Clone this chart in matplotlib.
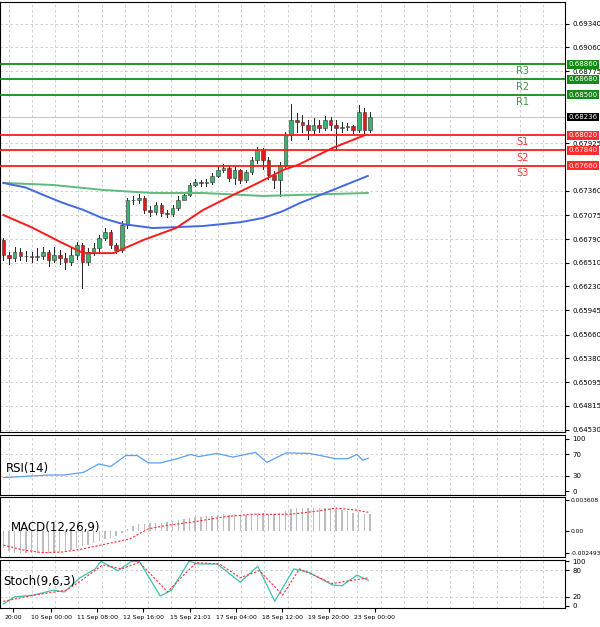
import matplotlib

matplotlib.use("Agg")
import matplotlib.pyplot as plt
from matplotlib.patches import Rectangle

# ---- price candles (H4) ----
CLOSES = [0.66601, 0.66565, 0.66636, 0.66589, 0.66589, 0.66577, 0.66589, 0.66636, 0.66541, 0.66601,
          0.66565, 0.66518, 0.66601, 0.66719, 0.66518, 0.66636, 0.66684, 0.66802, 0.66874, 0.66719,
          0.66660, 0.66957, 0.67253, 0.67253, 0.67277, 0.67134, 0.67111, 0.67194, 0.67099, 0.67087,
          0.67158, 0.67253, 0.67312, 0.67431, 0.67467, 0.67455, 0.67467, 0.67538, 0.67609, 0.67633,
          0.67514, 0.67609, 0.67490, 0.67585, 0.67727, 0.67846, 0.67727, 0.67550, 0.67490, 0.67668,
          0.68024, 0.68202, 0.68178, 0.68143, 0.68083, 0.68143, 0.68107, 0.68202, 0.68143, 0.68107,
          0.68119, 0.68131, 0.68083, 0.68297, 0.68083, 0.68236]
OPENS = [0.66780] + CLOSES[:-1]
HIGHS = [0.66800, 0.66640, 0.66700, 0.66680, 0.66650, 0.66640, 0.66680, 0.66700, 0.66660, 0.66700,
         0.66660, 0.66620, 0.66680, 0.66760, 0.66740, 0.66680, 0.66740, 0.66840, 0.66920, 0.66900,
         0.66740, 0.67000, 0.67280, 0.67300, 0.67320, 0.67300, 0.67180, 0.67230, 0.67220, 0.67140,
         0.67190, 0.67300, 0.67340, 0.67460, 0.67500, 0.67490, 0.67500, 0.67570, 0.67640, 0.67680,
         0.67660, 0.67640, 0.67620, 0.67610, 0.67760, 0.67880, 0.67870, 0.67760, 0.67600, 0.67700,
         0.68060, 0.68390, 0.68280, 0.68260, 0.68200, 0.68220, 0.68200, 0.68250, 0.68230, 0.68200,
         0.68180, 0.68160, 0.68140, 0.68380, 0.68340, 0.68300]
LOWS = [0.66540, 0.66500, 0.66530, 0.66540, 0.66530, 0.66520, 0.66540, 0.66560, 0.66470, 0.66520,
        0.66500, 0.66440, 0.66480, 0.66560, 0.66210, 0.66480, 0.66600, 0.66640, 0.66780, 0.66680,
        0.66620, 0.66640, 0.66920, 0.67200, 0.67220, 0.67100, 0.67060, 0.67090, 0.67060, 0.67050,
        0.67060, 0.67140, 0.67260, 0.67300, 0.67420, 0.67420, 0.67420, 0.67440, 0.67520, 0.67580,
        0.67480, 0.67440, 0.67460, 0.67470, 0.67560, 0.67690, 0.67620, 0.67500, 0.67400, 0.67300,
        0.67640, 0.67960, 0.68060, 0.68060, 0.67980, 0.68040, 0.68060, 0.68080, 0.68080, 0.67860,
        0.68060, 0.68080, 0.68050, 0.68060, 0.68040, 0.68060]

# moving averages (candle index, price)
MA_RED_X = [0, 5, 10, 14.2, 19.5, 24.8, 30.6, 35.4, 40.7, 45, 49.6, 52.2, 58.4, 64.2]
MA_RED_Y = [0.67075, 0.66930, 0.66760, 0.66624, 0.66624, 0.66779, 0.66921, 0.67135, 0.67312,
            0.67450, 0.67609, 0.67668, 0.67870, 0.68024]
MA_BLUE_X = [0, 4, 7.1, 10.5, 14.2, 17.5, 21.2, 26.5, 35.4, 42, 46.0, 49.5, 52.6, 58.4, 64.6]
MA_BLUE_Y = [0.67455, 0.67400, 0.67312, 0.67220, 0.67135, 0.67040, 0.66968, 0.66921, 0.66945,
             0.66990, 0.67040, 0.67120, 0.67218, 0.67372, 0.67538]
MA_GREEN_X = [0, 8.8, 17.7, 26.5, 35.4, 46.0, 64.6]
MA_GREEN_Y = [0.67455, 0.67431, 0.67372, 0.67336, 0.67336, 0.67301, 0.67336]

RESIST = [("R3", 0.68860), ("R2", 0.68680), ("R1", 0.68500)]
SUPPORT = [("S1", 0.68020), ("S2", 0.67840), ("S3", 0.67660)]
LAST_PRICE = 0.68236
PRICE_TICKS = [0.69340, 0.69060, 0.68775, 0.67925, 0.67360, 0.67075, 0.66790, 0.66510,
               0.66230, 0.65945, 0.65660, 0.65380, 0.65095, 0.64815, 0.64530]

# RSI(14)
RSI_X = [0, 8.1, 10.8, 14.2, 16.9, 19.0, 21.7, 23.7, 25.7, 27.8, 30.5, 33.2, 34.6, 37.9, 40.7,
         44.7, 46.7, 50.1, 54.2, 56.2, 58.9, 61.0, 62.7, 63.7, 64.7]
RSI_Y = [26, 31, 31, 36, 52, 47, 68, 68, 54, 54, 61, 70, 66, 72, 65, 74, 55, 73, 72, 68, 62, 62,
         70, 59, 63]

# MACD(12,26,9) histogram per candle (x1e-3) and signal nodes
MACD_HIST = [-1.9, -2.2, -2.4, -2.5, -2.5, -2.5, -2.5, -2.5, -2.4, -2.4, -2.3, -2.2, -2.1, -1.9,
             -1.7, -1.5, -1.3, -1.1, -0.9, -0.7, -0.5, -0.2, 0.3, 0.6, 0.8, 0.8, 0.9, 0.9, 1.0, 1.1,
             1.2, 1.3, 1.4, 1.5, 1.6, 1.6, 1.7, 1.8, 1.9, 2.0, 1.9, 2.0, 1.9, 1.9, 2.0, 2.1, 2.1,
             2.0, 2.0, 2.1, 2.3, 2.5, 2.6, 2.6, 2.6, 2.6, 2.6, 2.7, 2.6, 2.5, 2.4, 2.3, 2.1, 2.2,
             2.0, 2.0]
MACD_SIG_X = [0, 3.5, 6.8, 10.2, 13.5, 16.9, 22.4, 25.7, 29.1, 33.9, 39.3, 44.0, 50.8, 55.6, 58.9, 62.3, 64.7]
MACD_SIG_Y = [-1.55, -2.1, -2.4, -2.35, -2.05, -1.6, -0.85, 0.3, 0.7, 1.1, 1.67, 1.94, 1.94, 2.3,
              2.64, 2.44, 2.17]

# Stoch(9,6,3)
STO_X = [0, 2.0, 5.4, 8.8, 10.8, 13.6, 16.3, 17.3, 20.3, 22.7, 24.1, 27.8, 29.8, 32.9, 34.6, 37.9,
         42.0, 45.1, 48.1, 51.5, 54.2, 58.3, 60.0, 62.7, 64.7]
STO_MAIN = [4, 20, 24, 35, 31, 63, 83, 100, 79, 100, 100, 22, 35, 100, 94, 94, 53, 89, 10, 83, 75,
            47, 45, 69, 57]
STO_SIG_X = [0, 5.4, 11.2, 13.6, 17.6, 21.0, 24.1, 29.1, 31.8, 34.2, 38.3, 42.0, 45.4, 49.5, 52.5,
             58.3, 64.7]
STO_SIG = [10, 24, 35, 55, 92, 83, 98, 31, 67, 97, 94, 63, 79, 24, 83, 50, 63]

TIME_POS = [1.7, 8.5, 16.6, 24.8, 33.1, 41.3, 49.4, 57.7, 65.8]
TIME_LABELS = ["20:00", "10 Sep 00:00", "11 Sep 08:00", "12 Sep 16:00", "15 Sep 21:01",
               "17 Sep 04:00", "18 Sep 12:00", "19 Sep 20:00", "23 Sep 00:00"]

XMAX = 99.6
GRID_X = [0.94 + 4.12 * k for k in range(25)]
LBL = 5
GRID_KW = dict(color="#c8c8c8", linestyle=(0, (3, 3)), linewidth=0.6)

fig = plt.figure(figsize=(6.0, 6.27), dpi=100)
W = 0.942


def panel(bottom, height):
    ax = fig.add_axes([0.0, bottom, W, height])
    ax.set_xlim(-0.6, XMAX)
    ax.yaxis.tick_right()
    ax.tick_params(axis="y", labelsize=LBL, length=3, pad=2)
    ax.set_xticks([])
    for gx in GRID_X:
        ax.axvline(gx, zorder=0, **GRID_KW)
    for s in ax.spines.values():
        s.set_linewidth(0.8)
    return ax


def level_box(ax, lvl, face):
    ax.text(1.006, lvl, f"{lvl:.5f}", transform=ax.get_yaxis_transform(), fontsize=LBL,
            color="white", va="center", ha="left", clip_on=False, zorder=10,
            bbox=dict(boxstyle="square,pad=0.2", facecolor=face, edgecolor="none"))


# ---- main price panel ----
ax = panel(0.311, 0.686)
ax.set_ylim(0.64506, 0.69599)
ax.set_yticks(PRICE_TICKS)
ax.set_yticklabels([f"{t:.5f}" for t in PRICE_TICKS])
for t in PRICE_TICKS:
    ax.axhline(t, zorder=0, **GRID_KW)

for i, (o, h, l, c) in enumerate(zip(OPENS, HIGHS, LOWS, CLOSES)):
    ax.plot([i, i], [l, h], color="#222222", linewidth=0.7, zorder=3)
    col = "#3cb371" if c >= o else "#e8161b"
    body = max(abs(c - o), 0.00003)
    ax.add_patch(Rectangle((i - 0.32, min(o, c)), 0.64, body, facecolor=col,
                           edgecolor="#333333", linewidth=0.4, zorder=4))

ax.plot(MA_GREEN_X, MA_GREEN_Y, color="#5dbb7d", linewidth=1.4, zorder=5)
ax.plot(MA_BLUE_X, MA_BLUE_Y, color="#4169e1", linewidth=1.4, zorder=5)
ax.plot(MA_RED_X, MA_RED_Y, color="#ff1a1a", linewidth=1.4, zorder=5)

for name, lvl in RESIST:
    ax.axhline(lvl, color="#168a16", linewidth=1.3, zorder=6)
    ax.text(92.0, lvl - 0.00025, name, color="#3a9a3a", fontsize=7, va="top", ha="center")
    level_box(ax, lvl, "#168a16")
for name, lvl in SUPPORT:
    ax.axhline(lvl, color="#ff1a1a", linewidth=1.3, zorder=6)
    ax.text(92.0, lvl - 0.00025, name, color="#ff3a3a", fontsize=7, va="top", ha="center")
    level_box(ax, lvl, "#ff2a2a")
ax.axhline(LAST_PRICE, color="#c8c8c8", linewidth=0.8, zorder=2)
level_box(ax, LAST_PRICE, "black")

# ---- RSI ----
ax = panel(0.2105, 0.0957)
ax.set_ylim(-7, 107)
ax.set_yticks([0, 30, 70, 100])
for t in (30, 70):
    ax.axhline(t, zorder=0, **GRID_KW)
ax.plot(RSI_X, RSI_Y, color="#5aa0ee", linewidth=0.9)
ax.text(0.01, 0.45, "RSI(14)", transform=ax.transAxes, fontsize=8.5, va="center")

# ---- MACD ----
ax = panel(0.1116, 0.0957)
ax.set_ylim(-2.9, 3.9)
ax.set_yticks([-2.493, 0.0, 3.608])
ax.set_yticklabels(["-0.002493", "0.00", "0.003608"])
ax.tick_params(axis="y", labelsize=4.3, pad=1)
ax.bar(range(len(MACD_HIST)), MACD_HIST, width=0.25, color="#bdbdbd")
ax.plot(MACD_SIG_X, MACD_SIG_Y, color="#ff3030", linewidth=0.8, linestyle=(0, (2, 1.5)))
ax.text(0.02, 0.5, "MACD(12,26,9)", transform=ax.transAxes, fontsize=8.5, va="center")

# ---- Stoch ----
ax = panel(0.0303, 0.0766)
ax.set_ylim(-5, 103)
ax.set_yticks([0, 20, 80, 100])
for t in (20, 80):
    ax.axhline(t, zorder=0, **GRID_KW)
ax.plot(STO_X, STO_MAIN, color="#40c0b0", linewidth=0.9)
ax.plot(STO_SIG_X, STO_SIG, color="#ff3030", linewidth=0.8, linestyle=(0, (2, 1.5)))
ax.text(0.005, 0.55, "Stoch(9,6,3)", transform=ax.transAxes, fontsize=8.5, va="center")
ax.set_xticks(TIME_POS)
ax.set_xticklabels(TIME_LABELS, fontsize=4.4)
ax.tick_params(axis="x", length=3, pad=2)

fig.savefig("out.png", dpi=100, facecolor="white")
